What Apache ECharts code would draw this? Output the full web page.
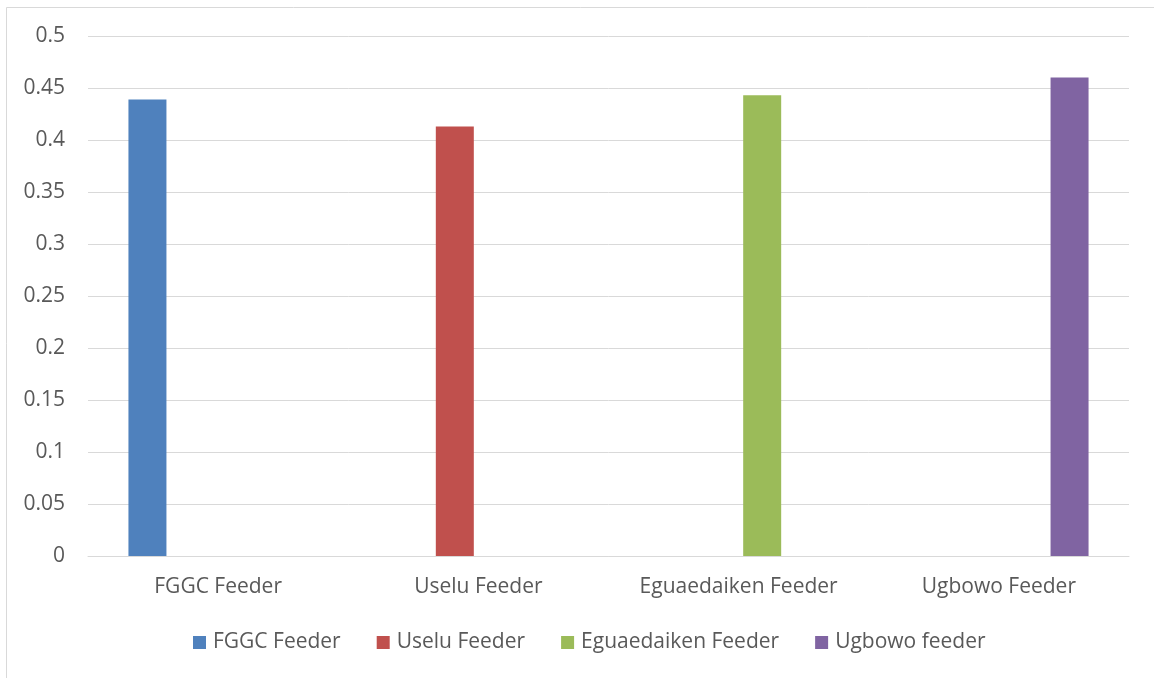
<!DOCTYPE html>
<html>
<head>
<meta charset="utf-8">
<script src="https://cdn.jsdelivr.net/npm/echarts@6/dist/echarts.min.js"></script>
<style>
  html, body { margin: 0; padding: 0; background: #ffffff; }
  #chart { width: 1154px; height: 678px; }
</style>
</head>
<body>
<div id="chart"></div>
<script>
// Feeder categories along the x axis
const categories = ['FGGC Feeder', 'Uselu Feeder', 'Eguaedaiken Feeder', 'Ugbowo Feeder'];
// Series names shown in the legend
const seriesNames = ['FGGC Feeder', 'Uselu Feeder', 'Eguaedaiken Feeder', 'Ugbowo feeder'];
// One value per feeder; each series only has a bar in its own category
const fggcValues        = [0.439, null, null, null];
const useluValues       = [null, 0.413, null, null];
const eguaedaikenValues = [null, null, 0.443, null];
const ugbowoValues      = [null, null, null, 0.46];
// Value axis ticks
const yTicks = ['0', '0.05', '0.1', '0.15', '0.2', '0.25', '0.3', '0.35', '0.4', '0.45', '0.5'];

const colors = ['#4f81bd', '#c0504d', '#9bbb59', '#8064a2'];
const seriesValues = [fggcValues, useluValues, eguaedaikenValues, ugbowoValues];
const FONT = '"Open Sans", sans-serif';
const TEXT = '#595959';
const GRID_LINE = '#d9d9d9';

const chart = echarts.init(document.getElementById('chart'), null, { renderer: 'canvas' });

chart.setOption({
  animation: false,
  backgroundColor: '#ffffff',
  color: colors,
  graphic: [{
    type: 'rect',
    silent: true,
    shape: { x: 6.5, y: 7.5, width: 1300, height: 800 },
    style: { fill: 'none', stroke: GRID_LINE, lineWidth: 1 }
  }],
  grid: { left: 88, right: 25, top: 36, bottom: 122, containLabel: false },
  legend: {
    data: seriesNames,
    left: 188,
    top: 627,
    icon: 'rect',
    itemWidth: 13,
    itemHeight: 13,
    itemGap: 36,
    textStyle: { fontFamily: FONT, fontSize: 21, color: TEXT, padding: [0, 0, 0, 2] }
  },
  xAxis: {
    type: 'category',
    data: categories,
    axisLine: { show: true, lineStyle: { color: GRID_LINE, width: 1 } },
    axisTick: { show: false },
    axisLabel: { fontFamily: FONT, fontSize: 21, color: TEXT, margin: 21 }
  },
  yAxis: {
    type: 'value',
    min: 0,
    max: 0.5,
    interval: 0.05,
    axisLine: { show: false },
    axisTick: { show: false },
    splitLine: { lineStyle: { color: GRID_LINE, width: 1 } },
    axisLabel: {
      fontFamily: FONT, fontSize: 21, color: TEXT, margin: 23,
      formatter: (v) => yTicks[Math.round(v / 0.05)]
    }
  },
  series: seriesNames.map((name, i) => ({
    name,
    type: 'bar',
    data: seriesValues[i],
    barWidth: 38,
    barGap: '24%',
    itemStyle: { color: colors[i] }
  }))
});
</script>
</body>
</html>
